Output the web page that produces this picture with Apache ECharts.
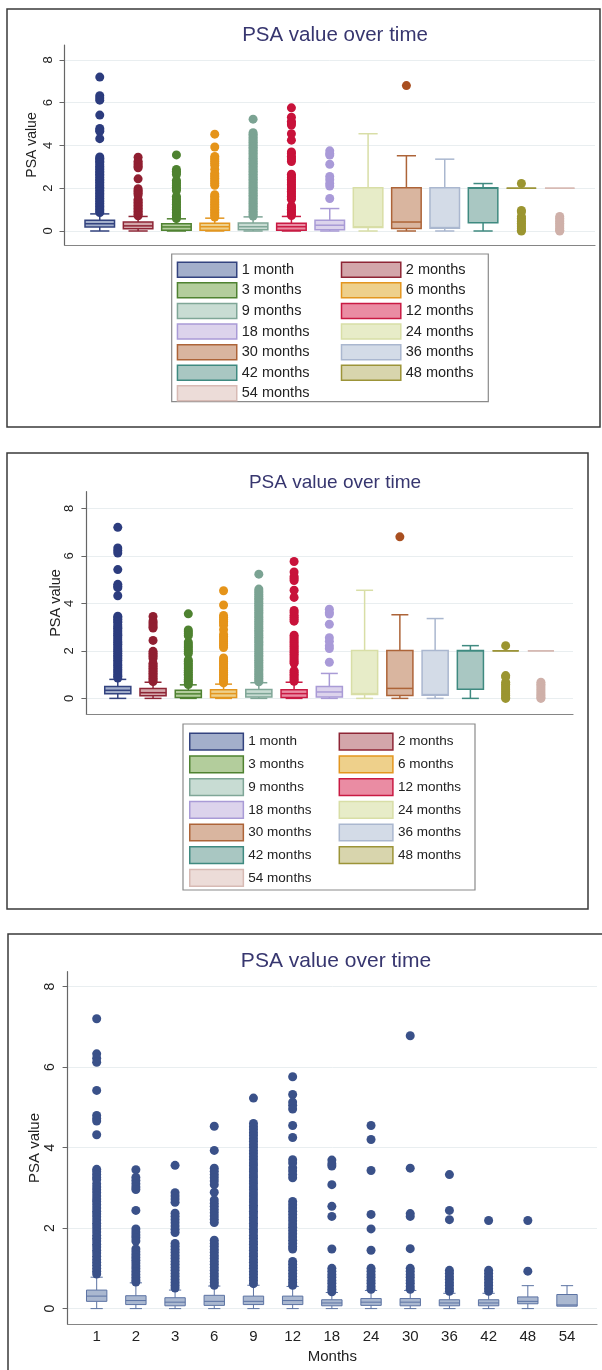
<!DOCTYPE html>
<html><head><meta charset="utf-8">
<script src="https://cdn.jsdelivr.net/npm/echarts@6/dist/echarts.min.js"></script>
<style>html,body{margin:0;padding:0;background:#fff}#c{width:602px;height:1370px}</style>
</head><body><div id="c"></div>
<script>
// ---------------- DATA ----------------
const categories = ['1','2','3','6','9','12','18','24','30','36','42','48','54'];
const legendNames = ['1 month','2 months','3 months','6 months','9 months','12 months','18 months','24 months','30 months','36 months','42 months','48 months','54 months'];
const yTicks = [0, 2, 4, 6, 8];
const chartTitle = 'PSA value over time';
const yAxisName = 'PSA value';
const xAxisName = 'Months';

// [lower whisker, Q1, median, Q3, upper whisker] – top two (coloured) panels
const boxStatsColour = [
  [0, 0.19, 0.34, 0.50, 0.80],
  [0, 0.11, 0.24, 0.42, 0.68],
  [0, 0.04, 0.19, 0.34, 0.57],
  [0, 0.04, 0.20, 0.36, 0.60],
  [0, 0.06, 0.20, 0.37, 0.66],
  [0, 0.04, 0.20, 0.36, 0.68],
  [0, 0.06, 0.27, 0.50, 1.05],
  [0, 0.16, 0.20, 2.02, 4.55],
  [0, 0.12, 0.42, 2.02, 3.52],
  [0, 0.13, 0.16, 2.02, 3.36],
  [0, 0.38, 2.00, 2.02, 2.22],
  [2, 2, 2, 2, 2],
  [2, 2, 2, 2, 2]
];
// bottom (single colour) panel
const boxStatsMonths = [
  [0, 0.18, 0.31, 0.46, 0.78],
  [0, 0.10, 0.20, 0.32, 0.64],
  [0, 0.07, 0.16, 0.27, 0.46],
  [0, 0.08, 0.18, 0.33, 0.56],
  [0, 0.10, 0.18, 0.31, 0.58],
  [0, 0.10, 0.20, 0.31, 0.55],
  [0, 0.07, 0.14, 0.22, 0.40],
  [0, 0.08, 0.16, 0.25, 0.45],
  [0, 0.07, 0.16, 0.25, 0.45],
  [0, 0.07, 0.14, 0.22, 0.38],
  [0, 0.07, 0.14, 0.22, 0.38],
  [0, 0.12, 0.18, 0.29, 0.57],
  [0.06, 0.06, 0.09, 0.35, 0.57]
];

const out1m = [7.2, 6.33, 6.22, 6.12, 5.42, 4.8, 4.72, 4.66, 4.32, 3.46, 3.4, 3.33, 3.26, 3.2, 3.1, 3.02, 2.95, 2.88, 2.8, 2.72, 2.66, 2.58, 2.5, 2.42, 2.35, 2.28, 2.2, 2.12, 2.05, 1.98, 1.9, 1.82, 1.75, 1.68, 1.6, 1.53, 1.45, 1.38, 1.3, 1.22, 1.15, 1.08, 1.0, 0.93, 0.86];
const out2m = [3.45, 3.26, 3.18, 3.1, 3.02, 2.96, 2.44, 1.98, 1.9, 1.83, 1.76, 1.68, 1.48, 1.41, 1.34, 1.27, 1.2, 1.13, 1.06, 0.99, 0.92, 0.85, 0.78, 0.71, 0.66];
const out3m = [3.56, 2.88, 2.8, 2.72, 2.64, 2.37, 2.29, 2.21, 2.13, 2.05, 1.97, 1.89, 1.62, 1.55, 1.47, 1.4, 1.32, 1.25, 1.17, 1.1, 1.02, 0.95, 0.87, 0.8, 0.72, 0.65, 0.58, 0.51];
const out6m = [4.53, 3.93, 3.49, 3.41, 3.33, 3.25, 3.17, 3.08, 2.89, 2.7, 2.62, 2.54, 2.46, 2.38, 2.3, 2.22, 2.14, 1.7, 1.62, 1.55, 1.47, 1.4, 1.32, 1.25, 1.17, 1.1, 1.02, 0.95, 0.87, 0.8, 0.72, 0.65, 0.58];
const out9m = [5.23, 4.6, 4.52, 4.45, 4.37, 4.3, 4.22, 4.15, 4.07, 4.0, 3.92, 3.85, 3.77, 3.7, 3.62, 3.55, 3.47, 3.4, 3.32, 3.25, 3.17, 3.1, 3.02, 2.95, 2.87, 2.8, 2.72, 2.65, 2.57, 2.5, 2.42, 2.35, 2.27, 2.2, 2.12, 2.05, 1.97, 1.9, 1.82, 1.75, 1.67, 1.6, 1.52, 1.45, 1.37, 1.3, 1.22, 1.15, 1.07, 1.0, 0.92, 0.85, 0.77, 0.7, 0.62];
const out12m = [5.76, 5.32, 5.13, 5.05, 4.96, 4.55, 4.25, 3.7, 3.62, 3.5, 3.42, 3.33, 3.25, 2.66, 2.58, 2.5, 2.42, 2.34, 2.26, 2.18, 2.1, 2.02, 1.94, 1.86, 1.78, 1.7, 1.62, 1.54, 1.48, 1.17, 1.1, 1.02, 0.95, 0.87, 0.8, 0.72, 0.65, 0.58];
const out18mColour = [3.75, 3.62, 3.55, 3.12, 2.55, 2.4, 2.22, 2.1, 1.52];
const out18mMonths = [3.69, 3.6, 3.54, 3.08, 2.54, 2.29, 1.48, 1.0, 0.93, 0.85, 0.78, 0.7, 0.63, 0.55, 0.48, 0.42];
const out24mMonths = [4.55, 4.2, 3.43, 2.34, 1.98, 1.45, 1.0, 0.93, 0.85, 0.78, 0.7, 0.63, 0.55, 0.48];
const out30mColour = [6.8];
const out30mMonths = [6.78, 3.49, 2.36, 2.29, 1.49, 1.0, 0.93, 0.85, 0.78, 0.7, 0.63, 0.55, 0.48];
const out36mMonths = [3.33, 2.44, 2.21, 0.95, 0.88, 0.8, 0.73, 0.65, 0.58, 0.5, 0.43];
const out42mMonths = [2.19, 0.95, 0.88, 0.8, 0.73, 0.65, 0.58, 0.5, 0.43];
const out48mColour = [2.22, 0.96, 0.9, 0.68, 0.6, 0.52, 0.44, 0.36, 0.28, 0.2, 0.12, 0.04, 0.0];
const out48mMonths = [2.19, 0.93];
const out54mColour = [0.68, 0.6, 0.52, 0.44, 0.36, 0.28, 0.2, 0.12, 0.04, 0.0];

const outliersColour = [out1m, out2m, out3m, out6m, out9m, out12m, out18mColour, [], out30mColour, [], [], out48mColour, out54mColour];
const outliersMonths = [out1m, out2m, out3m, out6m, out9m, out12m, out18mMonths, out24mMonths, out30mMonths, out36mMonths, out42mMonths, out48mMonths, []];

// ---------------- STYLE ----------------
const FONT = 'Liberation Sans, Arial, sans-serif';
const lineCols = ['#33437f','#8e2535','#4f8231','#e3961f','#7fa697','#c91a43','#a99bd6','#d8dea6','#ad6438','#aab7cf','#3f8a80','#9c9438','#d7bab4'];
const fillCols = ['#a3afcb','#d3a6aa','#b3cd9c','#eed08b','#c8dcd3','#ea8ca3','#dcd3ec','#e7ecc8','#d9b59f','#d3dbe7','#a9c7c2','#d8d5ad','#ecdcd8'];
const dotCols  = ['#2c3c7e','#901f31','#4e8230','#e5941a','#7ba393','#c8123a','#a99ad8','#d8dea6','#a94f20','#aab7cf','#3f8a80','#9b9530','#cfb0a9'];
const titleCol = '#37366f';

const panels = [
  {grid:{left:64.5, top:45, width:530.5, height:200}, xMin:0.08, xMax:13.92, yMin:-0.655, yMax:8.7,
   boxRatio:0.77, capRatio:0.65, lw:1.5, titleLeft:330, titleTop:20, titleSize:20.5, ySize:13, yMargin:9.5, nameGap:25.5, nameSize:14},
  {grid:{left:86.4, top:491.7, width:486.6, height:222.6}, xMin:0.11, xMax:13.91, yMin:-0.67, yMax:8.7,
   boxRatio:0.74, capRatio:0.65, lw:1.5, titleLeft:330, titleTop:468, titleSize:19, ySize:13, yMargin:10, nameGap:22.5, nameSize:14.5},
  {grid:{left:67.6, top:971.7, width:529.4, height:352.6}, xMin:0.258, xMax:13.765, yMin:-0.39, yMax:8.37,
   boxRatio:0.52, capRatio:0.6, lw:1, titleLeft:331, titleTop:946, titleSize:21, ySize:14, yMargin:10.5, nameGap:25, nameSize:15}
];

function boxRenderer(line, fill, p) {
  return function (params, api) {
    const x = api.value(0);
    const lo = api.value(1), q1 = api.value(2), md = api.value(3), q3 = api.value(4), hi = api.value(5);
    const unit = api.size([1, 0])[0];
    const bw = unit * p.boxRatio, cw = bw * p.capRatio;
    const pLo = api.coord([x, lo]), pQ1 = api.coord([x, q1]), pMd = api.coord([x, md]);
    const pQ3 = api.coord([x, q3]), pHi = api.coord([x, hi]);
    const cx = pLo[0];
    const st = {stroke: line, lineWidth: p.lw, fill: null};
    const ch = [];
    if (hi > q3) {
      ch.push({type:'line', shape:{x1:cx, y1:pQ3[1], x2:cx, y2:pHi[1]}, style:st});
      ch.push({type:'line', shape:{x1:cx-cw/2, y1:pHi[1], x2:cx+cw/2, y2:pHi[1]}, style:st});
    }
    if (lo < q1) {
      ch.push({type:'line', shape:{x1:cx, y1:pQ1[1], x2:cx, y2:pLo[1]}, style:st});
      ch.push({type:'line', shape:{x1:cx-cw/2, y1:pLo[1], x2:cx+cw/2, y2:pLo[1]}, style:st});
    }
    ch.push({type:'rect', shape:{x:cx-bw/2, y:pQ3[1], width:bw, height:pQ1[1]-pQ3[1]},
             style:{fill: fill, stroke: line, lineWidth: p.lw}});
    ch.push({type:'line', shape:{x1:cx-bw/2, y1:pMd[1], x2:cx+bw/2, y2:pMd[1]}, style:st});
    return {type:'group', children: ch};
  };
}

const grids = [], xAxes = [], yAxes = [], titles = [], series = [];
panels.forEach((p, pi) => {
  grids.push(Object.assign({containLabel:false}, p.grid));
  titles.push({text: chartTitle, left: p.titleLeft, top: p.titleTop, textAlign: 'center',
    textStyle:{fontFamily: FONT, fontWeight:'normal', fontSize: p.titleSize, color: titleCol}});
  const isBottom = pi === 2;
  xAxes.push({type:'value', gridIndex: pi, min: p.xMin, max: p.xMax,
    axisLine:{show:true, onZero:false, lineStyle:{color:'#858585', width:1.2}},
    axisTick:{show:false}, splitLine:{show:false},
    axisLabel: isBottom ? {show:true, customValues: categories.map((c, i) => i + 1),
      formatter: v => categories[Math.round(v) - 1], margin: 5, fontFamily: FONT, fontSize: 15, color:'#222'} : {show:false},
    name: isBottom ? xAxisName : '', nameLocation:'middle', nameGap: 25, nameMoveOverlap: false,
    nameTextStyle:{fontFamily: FONT, fontSize: 15, color:'#222'}});
  yAxes.push({type:'value', gridIndex: pi, min: p.yMin, max: p.yMax,
    axisLine:{show:true, lineStyle:{color:'#666', width:1.2}},
    axisTick:{show:true, length:5, customValues: yTicks, lineStyle:{color:'#666'}},
    axisLabel:{customValues: yTicks, rotate: 90, margin: p.yMargin, fontFamily: FONT, fontSize: p.ySize, color:'#222'},
    splitLine:{show:true, lineStyle:{color:'#e9eef0', width:1}},
    name: yAxisName, nameLocation:'middle', nameGap: p.nameGap, nameMoveOverlap: false,
    nameTextStyle:{fontFamily: FONT, fontSize: p.nameSize, color:'#222'}});

  const stats = isBottom ? boxStatsMonths : boxStatsColour;
  const outs = isBottom ? outliersMonths : outliersColour;
  if (isBottom) {
    series.push({type:'custom', name:'box', xAxisIndex: pi, yAxisIndex: pi, silent:true,
      renderItem: boxRenderer('#5c73a3', '#aab8d0', p), encode:{x:0, y:[1,2,3,4,5]},
      data: stats.map((s, i) => [i + 1].concat(s))});
    const pts = [];
    outs.forEach((arr, i) => arr.filter(v => v > stats[i][4] || v < stats[i][0]).forEach(v => pts.push([i + 1, v])));
    series.push({type:'scatter', name:'outliers', xAxisIndex: pi, yAxisIndex: pi, silent:true,
      symbol:'circle', symbolSize: 9, itemStyle:{color:'#3a5189', opacity:1}, data: pts});
  } else {
    stats.forEach((s, i) => {
      series.push({type:'custom', name: legendNames[i], xAxisIndex: pi, yAxisIndex: pi, silent:true,
        itemStyle:{color: fillCols[i], borderColor: lineCols[i]},
        renderItem: boxRenderer(lineCols[i], fillCols[i], p), encode:{x:0, y:[1,2,3,4,5]},
        data: [[i + 1].concat(s)]});
      series.push({type:'scatter', name: legendNames[i], xAxisIndex: pi, yAxisIndex: pi, silent:true,
        symbol:'circle', symbolSize: 9, itemStyle:{color: dotCols[i], opacity:1},
        data: outs[i].filter(v => v > s[4] || v < s[0]).map(v => [i + 1, v])});
    });
  }
});

function makeLegend(left, top, iw, ih, gap, tw, fs, width) {
  return {show:true, orient:'horizontal', left: left, top: top, width: width, padding: 0,
    itemWidth: iw, itemHeight: ih, itemGap: gap, icon:'rect', selectedMode:false,
    textStyle:{fontFamily: FONT, fontSize: fs, color:'#222', width: tw, lineHeight: ih},
    data: legendNames.map((n, i) => ({name: n, icon:'rect',
      itemStyle:{color: fillCols[i], borderColor: lineCols[i], borderWidth: 1.5}}))};
}

const option = {
  animation: false,
  backgroundColor: '#ffffff',
  title: titles,
  grid: grids,
  xAxis: xAxes,
  yAxis: yAxes,
  legend: [
    makeLegend(176.7, 261.5, 59.3, 15, 4.1, 94.9, 14.5, 325),
    makeLegend(189, 732.6, 53.6, 16.7, 4.5, 85.7, 13.5, 295)
  ],
  graphic: [
    {type:'rect', shape:{x:7, y:9, width:593, height:418}, style:{fill:null, stroke:'#3a3a3a', lineWidth:1.5}, silent:true},
    {type:'rect', shape:{x:171.7, y:254, width:316.6, height:147.7}, style:{fill:null, stroke:'#8a8a8a', lineWidth:1.2}, silent:true},
    {type:'rect', shape:{x:7, y:453, width:581, height:456}, style:{fill:null, stroke:'#3a3a3a', lineWidth:1.5}, silent:true},
    {type:'rect', shape:{x:183, y:724, width:292, height:166}, style:{fill:null, stroke:'#8a8a8a', lineWidth:1.2}, silent:true},
    {type:'rect', shape:{x:8, y:934, width:600, height:450}, style:{fill:null, stroke:'#3a3a3a', lineWidth:1.5}, silent:true}
  ],
  series: series
};

const chart = echarts.init(document.getElementById('c'), null, {renderer:'canvas'});
chart.setOption(option);
</script></body></html>
